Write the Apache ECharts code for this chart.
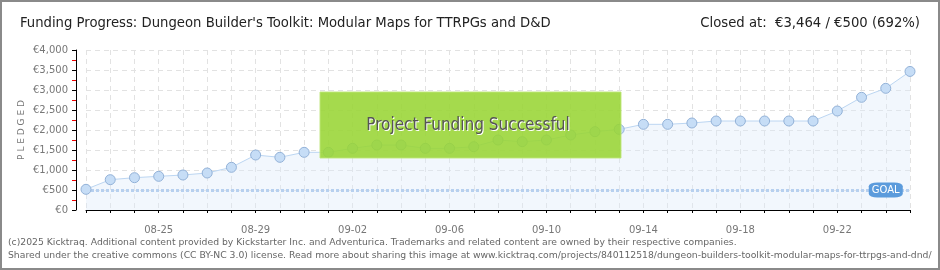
<!DOCTYPE html>
<html><head><meta charset="utf-8">
<script src="https://cdn.jsdelivr.net/npm/echarts@6/dist/echarts.min.js"></script>
<style>html,body{margin:0;padding:0;background:#fff}#c{width:940px;height:270px}</style>
</head><body><div id="c"></div>
<script>
const dates = ['08-22','08-23','08-24','08-25','08-26','08-27','08-28','08-29','08-30','08-31',
  '09-01','09-02','09-03','09-04','09-05','09-06','09-07','09-08','09-09','09-10',
  '09-11','09-12','09-13','09-14','09-15','09-16','09-17','09-18','09-19','09-20',
  '09-21','09-22','09-23','09-24','09-25'];
const pledged = [517,758,808,842,875,925,1067,1375,1317,1442,
  1442,1542,1625,1625,1542,1542,1583,1750,1708,1750,
  1875,1958,2017,2142,2142,2175,2225,2225,2225,2225,
  2225,2475,2817,3042,3464];
const goal = 500;
const yTicks = [0,500,1000,1500,2000,2500,3000,3500,4000];
const titleText = "Funding Progress: Dungeon Builder's Toolkit: Modular Maps for TTRPGs and D&D";
const closedText = "Closed at:  €3,464 / €500 (692%)";
const footer1 = "(c)2025 Kicktraq. Additional content provided by Kickstarter Inc. and Adventurica. Trademarks and related content are owned by their respective companies.";
const footer2 = "Shared under the creative commons (CC BY-NC 3.0) license. Read more about sharing this image at www.kicktraq.com/projects/840112518/dungeon-builders-toolkit-modular-maps-for-ttrpgs-and-dnd/";

const chart = echarts.init(document.getElementById('c'), null, {renderer:'canvas'});
const titleFont = '"DejaVu Sans Condensed","Liberation Sans Narrow",sans-serif';
chart.setOption({
  animation:false,
  backgroundColor:'#fff',
  grid:{left:86,right:30,top:50,bottom:60},
  xAxis:{type:'category',data:dates,boundaryGap:false,offset:11,
    axisLine:{lineStyle:{color:'#000',width:1}},
    axisTick:{show:true,interval:0,length:3,lineStyle:{color:'#000'}},
    axisLabel:{interval:(i)=>(i-3)%4===0,color:'#777',fontSize:10,margin:4,fontFamily:'DejaVu Sans'},
    splitLine:{show:true,interval:0,lineStyle:{color:'#e2e2e2',type:[5,4]}}
  },
  yAxis:{type:'value',min:yTicks[0],max:yTicks[yTicks.length-1],interval:500,offset:10,
    axisLine:{show:true,lineStyle:{color:'#000'}},
    axisTick:{show:true,length:4,lineStyle:{color:'#000'}},
    minorTick:{show:true,splitNumber:2,length:4,lineStyle:{color:'#e00'}},
    axisLabel:{color:'#777',fontSize:10,margin:8,fontFamily:'DejaVu Sans',
      formatter:(v)=>'€'+v.toLocaleString('en-US')},
    splitLine:{show:true,lineStyle:{color:'#e2e2e2',type:[5,4]}}
  },
  series:[{
    type:'line',data:pledged,z:3,
    symbol:'circle',symbolSize:10,
    lineStyle:{color:'#bcd6f2',width:1},
    itemStyle:{color:'#c6ddf6',borderColor:'#93b2d8',borderWidth:1},
    areaStyle:{color:'rgba(222,235,250,0.55)'},
    markLine:{silent:true,symbol:'none',z:2,
      lineStyle:{color:'#9fc0e8',width:3,type:[3,2]},
      label:{show:false},
      data:[{yAxis:goal}]},
    markPoint:{silent:true,symbol:'roundRect',symbolSize:[34,15],
      itemStyle:{color:'#5b9bdc'},
      label:{show:true,formatter:'GOAL',color:'#fff',fontSize:10,fontFamily:'DejaVu Sans'},
      data:[{coord:[dates[33],goal]}]}
  }],
  graphic:[
    {type:'rect',z:10,shape:{x:320,y:92,width:301,height:66},style:{fill:'rgba(152,213,52,0.88)',stroke:'rgba(190,230,120,0.9)',lineWidth:1}},
    {type:'text',z:11,x:469,y:127,style:{text:'Project Funding Successful',fill:'#fff',font:'17px '+titleFont,align:'center',verticalAlign:'middle'}},
    {type:'text',z:12,x:468,y:126,style:{text:'Project Funding Successful',fill:'#555',font:'17px '+titleFont,align:'center',verticalAlign:'middle'}},
    {type:'text',z:11,x:20,y:23,style:{text:titleText,fill:'#222',font:'14.7px '+titleFont,verticalAlign:'middle'}},
    {type:'text',z:11,x:920,y:23,style:{text:closedText,fill:'#222',font:'14.7px '+titleFont,align:'right',verticalAlign:'middle'}},
    {type:'text',z:11,x:22,y:130,rotation:Math.PI/2,style:{text:'P L E D G E D',fill:'#777',font:'9px DejaVu Sans',align:'center',verticalAlign:'middle'}},
    {type:'text',z:11,x:8,y:243,style:{text:footer1,fill:'#666',font:'9.25px DejaVu Sans',verticalAlign:'middle'}},
    {type:'text',z:11,x:8,y:256,style:{text:footer2,fill:'#666',font:'9.25px DejaVu Sans',verticalAlign:'middle'}},
    {type:'rect',z:20,shape:{x:1,y:1,width:938,height:268},style:{fill:'none',stroke:'#8a8a8a',lineWidth:2}}
  ]
});
</script></body></html>
